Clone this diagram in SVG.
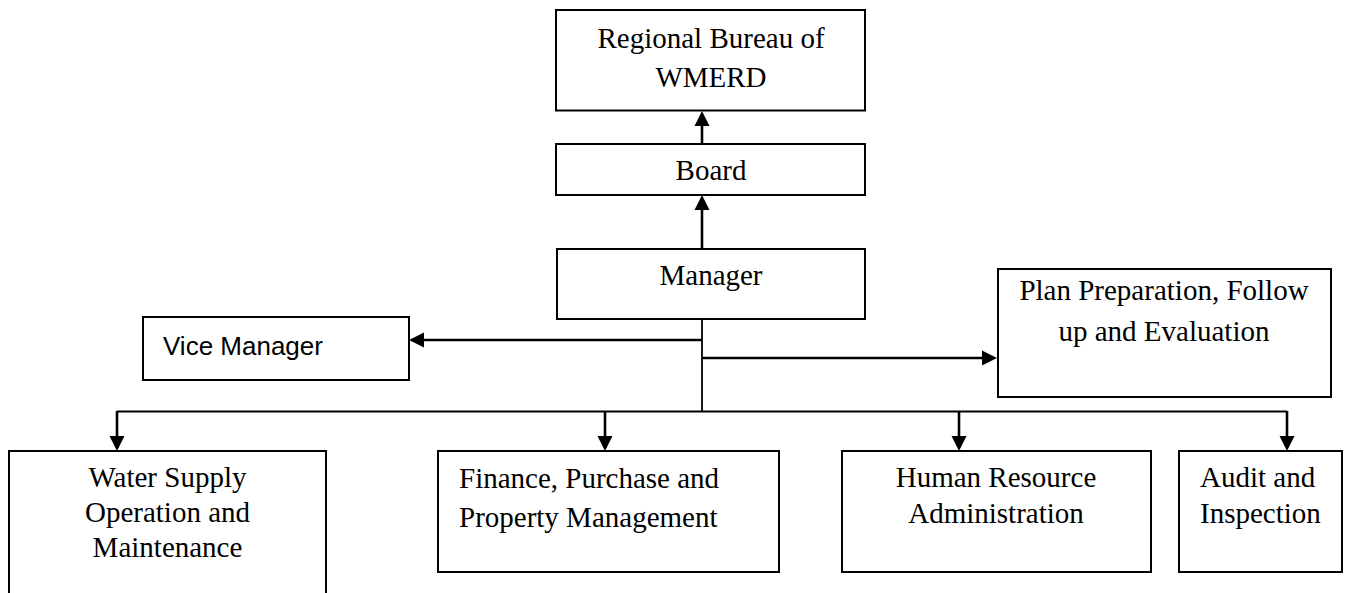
<svg xmlns="http://www.w3.org/2000/svg" width="1351" height="593" viewBox="0 0 1351 593">
  <style>
    .box { fill: #ffffff; stroke: #000000; stroke-width: 2; }
    .lbl { font-family: "Liberation Serif", "Times New Roman", serif; font-size: 29px; fill: #000000; }
    .mid { text-anchor: middle; }
    .sans { font-family: "Liberation Sans", Arial, sans-serif; font-size: 26px; fill: #000000; }
    .wire { fill: none; stroke: #000000; stroke-width: 1.8; }
    .arrow { fill: none; stroke: #000000; stroke-width: 2.6; marker-end: url(#head); }
  </style>
  <defs>
    <marker id="head" markerUnits="userSpaceOnUse" markerWidth="16" markerHeight="16" viewBox="0 0 16 16" refX="11" refY="8" orient="auto">
      <path d="M0,0.5 L15,8 L0,15.5 z" fill="#000000"/>
    </marker>
  </defs>

  <rect width="1351" height="593" fill="#ffffff"/>

  <!-- reporting lines -->
  <g id="connectors">
    <!-- upward chain -->
    <line class="arrow" x1="702" y1="249" x2="702" y2="199"/>
    <line class="arrow" x1="702" y1="144" x2="702" y2="115"/>
    <!-- trunk below the manager -->
    <line class="wire" x1="702" y1="319" x2="702" y2="412"/>
    <!-- side branches -->
    <line class="arrow" x1="702" y1="340" x2="413" y2="340"/>
    <line class="arrow" x1="702" y1="358" x2="993" y2="358"/>
    <!-- departmental bus -->
    <line class="wire" x1="117" y1="411.5" x2="1287" y2="411.5"/>
    <line class="arrow" x1="117" y1="411" x2="117" y2="447"/>
    <line class="arrow" x1="605" y1="411" x2="605" y2="447"/>
    <line class="arrow" x1="959" y1="411" x2="959" y2="447"/>
    <line class="arrow" x1="1287" y1="411" x2="1287" y2="447"/>
  </g>

  <g id="regional-bureau">
    <rect class="box" x="556" y="10" width="309" height="100.5"/>
    <text class="lbl mid" x="711" y="48">Regional Bureau of</text>
    <text class="lbl mid" x="711" y="87">WMERD</text>
  </g>

  <g id="board">
    <rect class="box" x="556" y="144" width="309" height="51"/>
    <text class="lbl mid" x="711" y="180">Board</text>
  </g>

  <g id="manager">
    <rect class="box" x="557" y="249" width="308" height="70"/>
    <text class="lbl mid" x="711" y="285">Manager</text>
  </g>

  <g id="vice-manager">
    <rect class="box" x="143" y="317" width="266" height="63"/>
    <text class="sans" x="163" y="355">Vice Manager</text>
  </g>

  <g id="plan-preparation">
    <rect class="box" x="998" y="269" width="333" height="128"/>
    <text class="lbl mid" x="1164" y="300">Plan Preparation, Follow</text>
    <text class="lbl mid" x="1164" y="341">up and Evaluation</text>
  </g>

  <g id="water-supply">
    <path class="box" d="M9,600 L9,451 L326,451 L326,600"/>
    <text class="lbl mid" x="167.5" y="487">Water Supply</text>
    <text class="lbl mid" x="167.5" y="522">Operation and</text>
    <text class="lbl mid" x="167.5" y="557">Maintenance</text>
  </g>

  <g id="finance">
    <rect class="box" x="438" y="451" width="341" height="121"/>
    <text class="lbl" x="459" y="488">Finance, Purchase and</text>
    <text class="lbl" x="459" y="527">Property Management</text>
  </g>

  <g id="human-resource">
    <rect class="box" x="842" y="451" width="309" height="121"/>
    <text class="lbl mid" x="996" y="487">Human Resource</text>
    <text class="lbl mid" x="996" y="523">Administration</text>
  </g>

  <g id="audit">
    <rect class="box" x="1179" y="451" width="163" height="121"/>
    <text class="lbl" x="1200" y="487">Audit and</text>
    <text class="lbl" x="1200" y="523">Inspection</text>
  </g>
</svg>
